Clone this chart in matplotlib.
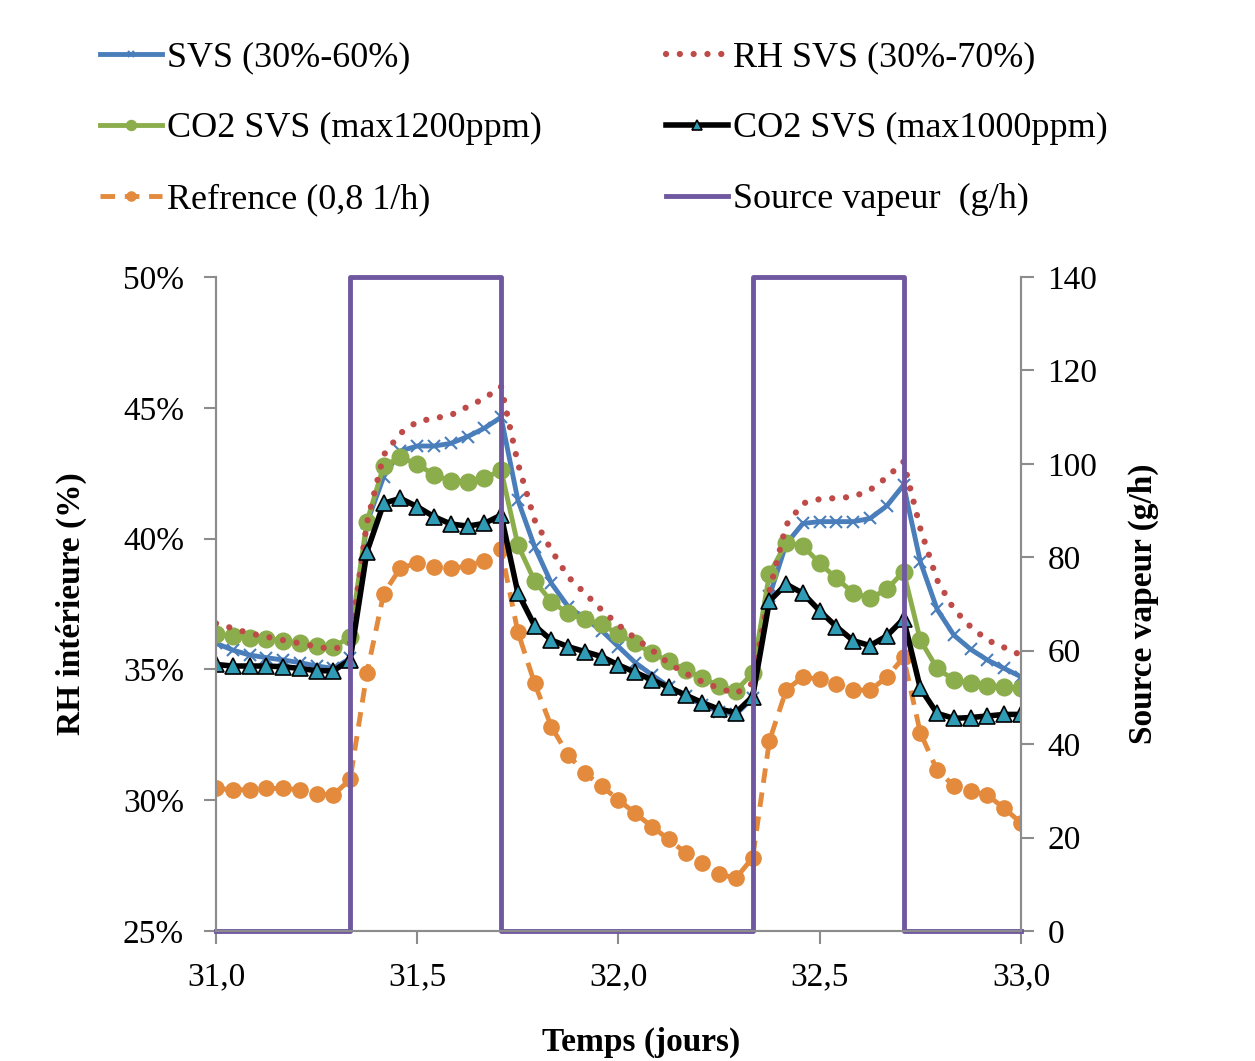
import matplotlib
matplotlib.use("Agg")
import matplotlib.pyplot as plt
from matplotlib.ticker import FuncFormatter, MultipleLocator

plt.rcParams['font.family'] = ['Liberation Serif', 'DejaVu Serif']

# hourly time axis (days)
t = [31 + i / 24 for i in range(49)]

svs_30_60 = [36.0, 35.74, 35.55, 35.45, 35.36, 35.26, 35.13, 35.04, 35.42, 40.6,
             42.37, 43.35, 43.54, 43.54, 43.64, 43.9, 44.22, 44.64, 41.48, 39.69,
             38.29, 37.4, 36.95, 36.48, 35.87, 35.26, 34.79, 34.34, 33.98, 33.64,
             33.39, 33.28, 33.9, 37.8, 39.8, 40.58, 40.65, 40.65, 40.65, 40.77,
             41.25, 42.05, 39.12, 37.3, 36.31, 35.77, 35.36, 35.04, 34.72]

rh_svs_30_70 = [36.76, 36.57, 36.38, 36.25, 36.12, 36.0, 35.87, 35.77, 36.0, 40.6,
                43.2, 44.03, 44.47, 44.6, 44.72, 45.04, 45.36, 45.81, 42.88, 40.71,
                39.56, 38.54, 37.91, 37.27, 36.7, 36.19, 35.74, 35.23, 34.85, 34.53,
                34.28, 34.08, 34.47, 38.0, 40.52, 41.35, 41.51, 41.55, 41.6, 41.86,
                42.34, 42.94, 40.39, 38.42, 37.3, 36.63, 36.12, 35.84, 35.55]

co2_1200 = [36.35, 36.28, 36.21, 36.18, 36.1, 36.0, 35.89, 35.87, 36.23, 40.65,
            42.78, 43.11, 42.85, 42.43, 42.21, 42.18, 42.3, 42.62, 39.76, 38.38,
            37.59, 37.14, 36.91, 36.72, 36.35, 36.0, 35.62, 35.32, 34.98, 34.68,
            34.37, 34.19, 34.85, 38.65, 39.84, 39.72, 39.06, 38.48, 37.93, 37.72,
            38.06, 38.74, 36.12, 35.04, 34.6, 34.47, 34.38, 34.34, 34.28]

co2_1000 = [35.19, 35.13, 35.13, 35.13, 35.1, 35.04, 34.95, 34.95, 35.36, 39.5,
            41.35, 41.54, 41.22, 40.84, 40.56, 40.48, 40.58, 40.9, 37.93, 36.67,
            36.12, 35.87, 35.68, 35.49, 35.17, 34.89, 34.6, 34.32, 34.02, 33.73,
            33.48, 33.35, 33.96, 37.61, 38.26, 37.91, 37.24, 36.63, 36.1, 35.91,
            36.28, 36.93, 34.28, 33.32, 33.13, 33.16, 33.22, 33.28, 33.28]

reference = [30.45, 30.4, 30.4, 30.45, 30.45, 30.4, 30.25, 30.2, 30.8, 34.86,
             37.9, 38.88, 39.06, 38.93, 38.86, 38.95, 39.16, 39.59, 36.43, 34.47,
             32.81, 31.73, 31.03, 30.54, 30.01, 29.5, 28.99, 28.5, 27.99, 27.59,
             27.18, 27.02, 27.8, 32.27, 34.21, 34.72, 34.62, 34.44, 34.21, 34.21,
             34.7, 35.46, 32.58, 31.15, 30.55, 30.35, 30.2, 29.69, 29.14]

# vapour source (g/h), step changes
source_t = [31.0, 31 + 8 / 24, 31 + 17 / 24, 32 + 8 / 24, 32 + 17 / 24, 33.0]
source_val = [0, 140, 0, 140, 0, 0]

fig = plt.figure(figsize=(12.55, 10.61), dpi=100)
ax = fig.add_axes([0.1721, 0.1225, 0.6414, 0.6164])

c_blue = '#4a7ebb'
c_red = '#be4b48'
c_green = '#8cad4c'
c_black = '#000000'
c_orange = '#e38a3c'
c_purple = '#7058a0'
c_cyan = '#2f9bb5'

l1, = ax.plot(t, svs_30_60, color=c_blue, lw=3.5, marker='x', ms=8, mew=1.5,
              label='SVS (30%-60%)')
l3, = ax.plot(t, co2_1200, color=c_green, lw=3.5, marker='o', ms=12,
              label='CO2 SVS (max1200ppm)')
l5, = ax.plot(t, reference, color=c_orange, lw=3.5, ls=(0, (3, 2)), marker='o',
              ms=11, label='Refrence (0,8 1/h)')
l2, = ax.plot(t, rh_svs_30_70, color=c_red, lw=4.5, ls=(0, (0.01, 2.2)),
              dash_capstyle='round', label='RH SVS (30%-70%)')
l4, = ax.plot(t, co2_1000, color=c_black, lw=4, marker='^', ms=11, mfc=c_cyan,
              mec='black', mew=1.2, label='CO2 SVS (max1000ppm)')

ax.set_xlim(31, 33)
ax.set_ylim(25, 50)
ax.yaxis.set_major_locator(MultipleLocator(5))
ax.xaxis.set_major_locator(MultipleLocator(0.5))
ax.yaxis.set_major_formatter(FuncFormatter(lambda v, p: f"{v:.0f}%"))
ax.xaxis.set_major_formatter(FuncFormatter(lambda v, p: f"{v:.1f}".replace('.', ',')))

ax2 = ax.twinx()
l6, = ax2.step(source_t, source_val, where='post', color=c_purple, lw=3.5,
               clip_on=False, label='Source vapeur  (g/h)')
ax2.set_ylim(0, 140)
ax2.yaxis.set_major_locator(MultipleLocator(20))

for a in (ax, ax2):
    a.spines['top'].set_visible(False)
    for s in ('left', 'right', 'bottom'):
        a.spines[s].set_color('#8c8c8c')
        a.spines[s].set_linewidth(1.5)
    a.tick_params(axis='both', which='major', length=9, width=1.5, color='#8c8c8c',
                  labelsize=24, pad=14)
ax.tick_params(axis='x', pad=13)
ax2.tick_params(axis='y', pad=10)

ax.set_ylabel('RH intérieure (%)', fontsize=24, fontweight='bold', labelpad=26)
ax2.set_ylabel('Source vapeur (g/h)', fontsize=24, fontweight='bold', labelpad=22)
ax.set_xlabel('Temps (jours)', fontsize=24, fontweight='bold')
ax.xaxis.set_label_coords(0.528, -0.147)

# legend: two columns placed separately
leg_kw = dict(loc='upper left', frameon=False, fontsize=26, handlelength=1.7,
              handletextpad=0.15, labelspacing=1.04, markerscale=0.6,
              borderaxespad=0, borderpad=0)
col1 = [l1, l3, l5]
col2 = [l2, l4, l6]
leg1 = fig.legend(col1, [h.get_label() for h in col1],
                  bbox_to_anchor=(0.080, 0.961), **leg_kw)
leg2 = fig.legend(col2, [h.get_label() for h in col2],
                  bbox_to_anchor=(0.531, 0.961), **leg_kw)

fig.savefig('out.png', dpi=100)
